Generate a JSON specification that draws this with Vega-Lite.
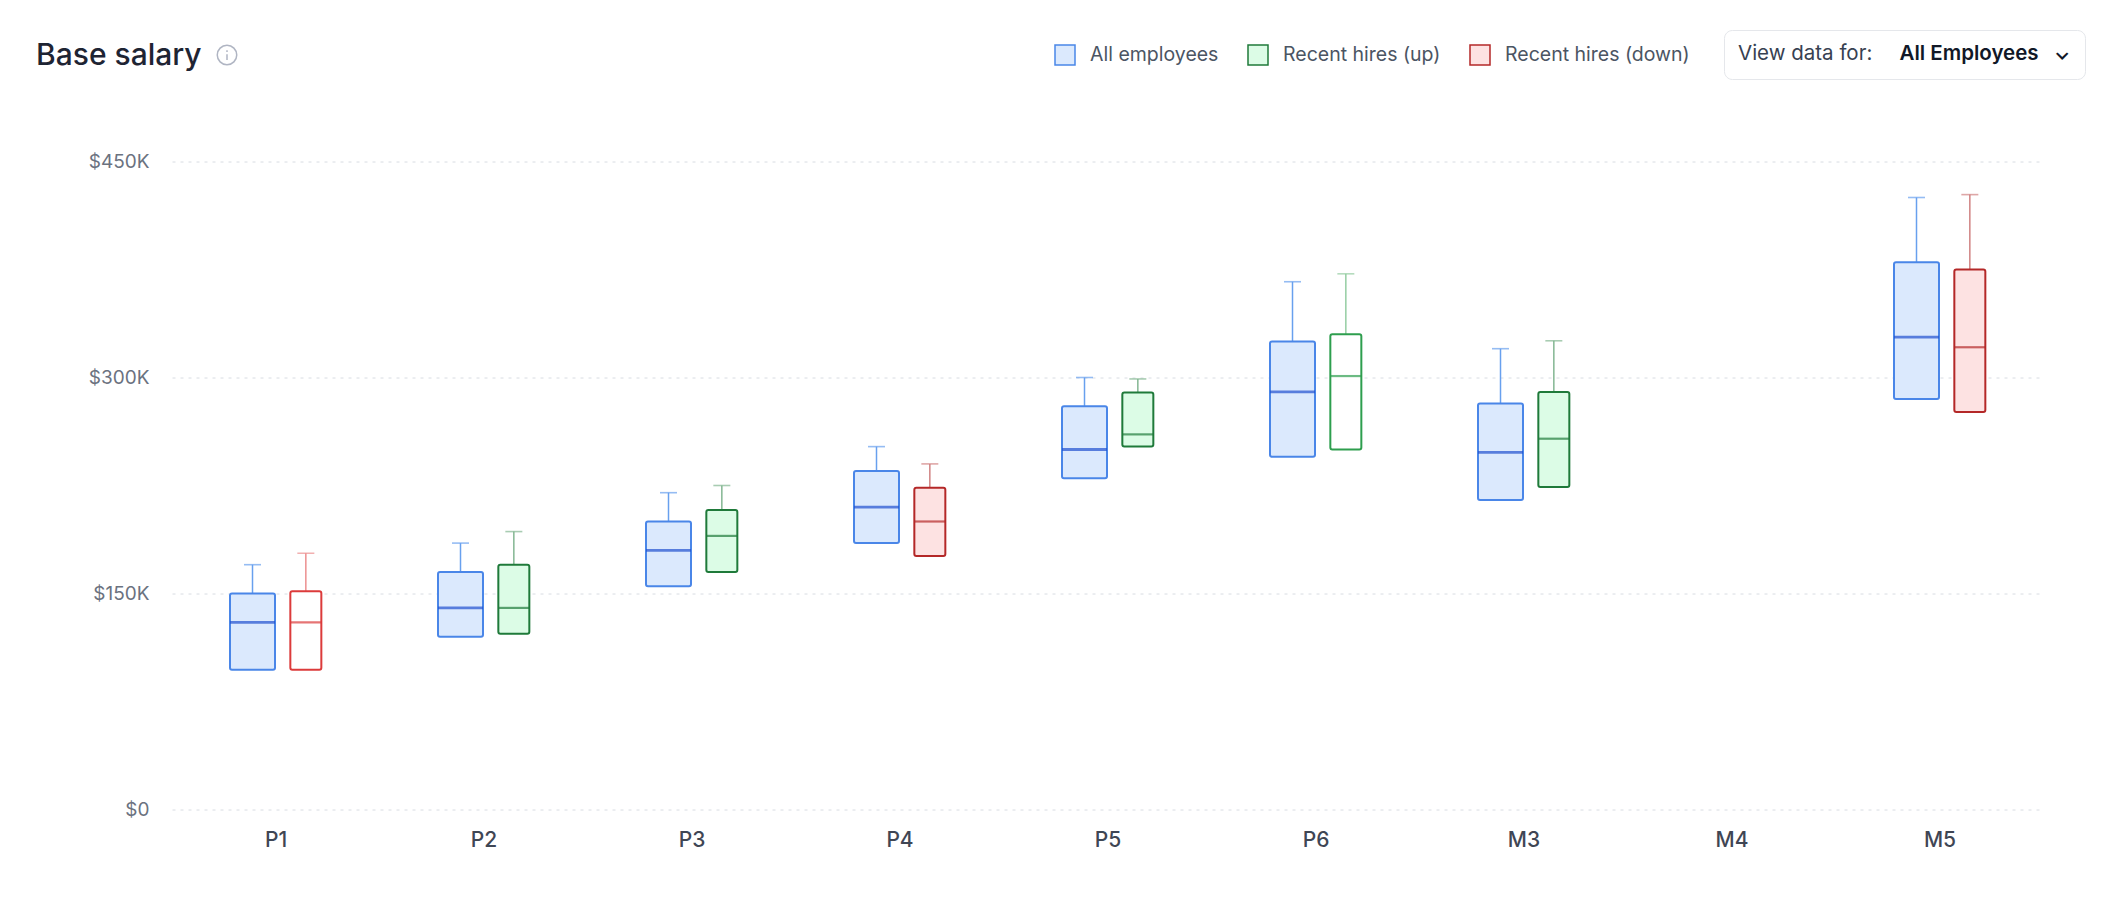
{
  "$schema": "https://vega.github.io/schema/vega-lite/v6.json",
  "width": 1872,
  "height": 648,
  "autosize": {"type": "none"},
  "padding": {"left": 172, "top": 161.5, "right": 76, "bottom": 108.5},
  "background": "#ffffff",
  "config": {
    "view": {"stroke": null},
    "font": "Inter",
    "legend": {"labelFont": "Inter", "titleFont": "Inter"},
    "axisY": {
      "grid": true, "gridDash": [3, 5], "gridColor": "#d8dce2", "gridWidth": 1,
      "domain": false, "ticks": false, "labelPadding": 23,
      "labelFont": "Inter", "labelFontSize": 19, "labelColor": "#6b7280"
    }
  },
  "title": {
    "text": "Base salary",
    "anchor": "start",
    "frame": "group",
    "orient": "top",
    "dx": -136,
    "offset": 0,
    "dy": 65,
    "baseline": "alphabetic",
    "font": "Inter",
    "fontSize": 30,
    "fontWeight": 500,
    "color": "#1e2433"
  },
  "data": {
    "values": [
      {"level": "P1", "series": "All employees", "cohort": "All", "q1": 97000, "median": 130000, "q3": 150000, "max": 170000},
      {"level": "P1", "series": "Recent hires (down)", "cohort": "Recent", "q1": 97000, "median": 130000, "q3": 151500, "max": 178000},
      {"level": "P2", "series": "All employees", "cohort": "All", "q1": 120000, "median": 140000, "q3": 165000, "max": 185000},
      {"level": "P2", "series": "Recent hires (up)", "cohort": "Recent", "q1": 122000, "median": 140000, "q3": 170000, "max": 193000},
      {"level": "P3", "series": "All employees", "cohort": "All", "q1": 155000, "median": 180000, "q3": 200000, "max": 220000},
      {"level": "P3", "series": "Recent hires (up)", "cohort": "Recent", "q1": 165000, "median": 190000, "q3": 208000, "max": 225000},
      {"level": "P4", "series": "All employees", "cohort": "All", "q1": 185000, "median": 210000, "q3": 235000, "max": 252000},
      {"level": "P4", "series": "Recent hires (down)", "cohort": "Recent", "q1": 176000, "median": 200000, "q3": 223500, "max": 240000},
      {"level": "P5", "series": "All employees", "cohort": "All", "q1": 230000, "median": 250000, "q3": 280000, "max": 300000},
      {"level": "P5", "series": "Recent hires (up)", "cohort": "Recent", "q1": 252000, "median": 260500, "q3": 289500, "max": 299000},
      {"level": "P6", "series": "All employees", "cohort": "All", "q1": 245000, "median": 290000, "q3": 325000, "max": 366500},
      {"level": "P6", "series": "Recent hires (up)", "cohort": "Recent", "q1": 250000, "median": 301000, "q3": 330000, "max": 372000},
      {"level": "M3", "series": "All employees", "cohort": "All", "q1": 215000, "median": 248000, "q3": 282000, "max": 320000},
      {"level": "M3", "series": "Recent hires (up)", "cohort": "Recent", "q1": 224000, "median": 257500, "q3": 290000, "max": 325500},
      {"level": "M5", "series": "All employees", "cohort": "All", "q1": 285000, "median": 328000, "q3": 380000, "max": 425000},
      {"level": "M5", "series": "Recent hires (down)", "cohort": "Recent", "q1": 276000, "median": 321000, "q3": 375000, "max": 427000}
    ]
  },
  "encoding": {
    "x": {
      "field": "level",
      "type": "nominal",
      "sort": null,
      "scale": {"domain": ["P1", "P2", "P3", "P4", "P5", "P6", "M3", "M4", "M5"], "paddingInner": 0, "paddingOuter": 0},
      "axis": {"labelAngle": 0, "labelFont": "Inter", "labelFontSize": 21, "labelFontWeight": 500, "labelColor": "#3f4654", "labelPadding": 20, "domain": false, "ticks": false, "grid": false},
      "title": null
    },
    "xOffset": {
      "field": "cohort",
      "type": "nominal",
      "scale": {"domain": ["All", "Recent"], "paddingInner": 0.1, "paddingOuter": 1.1177, "align": 0.5297}
    }
  },
  "layer": [
    {
      "mark": {"type": "rule", "strokeWidth": 1.5},
      "encoding": {
        "y": {
          "field": "q3",
          "type": "quantitative",
          "scale": {"domain": [0, 450000], "nice": false, "zero": true},
          "axis": {"values": [0, 150000, 300000, 450000], "labelExpr": "datum.value === 0 ? '$0' : '$' + format(datum.value / 1000, 'd') + 'K'"},
          "title": null
        },
        "y2": {"field": "max"},
        "stroke": {
          "condition": [
            {"test": "datum.level === 'P1' && datum.series === 'Recent hires (down)'", "value": "#ec8f8f"},
            {"test": "datum.level === 'P6' && datum.series === 'Recent hires (up)'", "value": "#95cda3"},
            {"test": "datum.series === 'All employees'", "value": "#68a0ee"},
            {"test": "datum.series === 'Recent hires (up)'", "value": "#83b692"}
          ],
          "value": "#d08282"
        }
      }
    },
    {
      "mark": {"type": "tick", "thickness": 1.6, "size": 17, "orient": "horizontal"},
      "encoding": {
        "y": {"field": "max", "type": "quantitative", "axis": {"values": [0, 150000, 300000, 450000], "labelExpr": "datum.value === 0 ? '$0' : '$' + format(datum.value / 1000, 'd') + 'K'"}, "title": null},
        "color": {
          "condition": [
            {"test": "datum.level === 'P1' && datum.series === 'Recent hires (down)'", "value": "#ec8f8f"},
            {"test": "datum.level === 'P6' && datum.series === 'Recent hires (up)'", "value": "#95cda3"},
            {"test": "datum.series === 'All employees'", "value": "#68a0ee"},
            {"test": "datum.series === 'Recent hires (up)'", "value": "#83b692"}
          ],
          "value": "#d08282"
        }
      }
    },
    {
      "transform": [{"filter": "datum.cohort === 'All'"}],
      "mark": {"type": "bar", "width": 45, "strokeWidth": 2, "cornerRadius": 2},
      "encoding": {
        "y": {"field": "q1", "type": "quantitative", "axis": {"values": [0, 150000, 300000, 450000], "labelExpr": "datum.value === 0 ? '$0' : '$' + format(datum.value / 1000, 'd') + 'K'"}, "title": null},
        "y2": {"field": "q3"},
        "fill": {
          "field": "series", "type": "nominal",
          "scale": {"domain": ["All employees", "Recent hires (up)", "Recent hires (down)"], "range": ["#dbe9fd", "#dcfce6", "#fde2e2"]},
          "legend": {"title": null, "orient": "none", "legendX": 882, "legendY": -117.5, "direction": "horizontal", "symbolType": "square", "symbolSize": 400, "symbolStrokeWidth": 1.5, "labelFontSize": 19.5, "labelLimit": 400, "labelColor": "#4b5563", "labelOffset": 14, "columnPadding": 26}
        },
        "stroke": {
          "field": "series", "type": "nominal",
          "scale": {"domain": ["All employees", "Recent hires (up)", "Recent hires (down)"], "range": ["#4a86e8", "#1f7a3a", "#b42828"]},
          "legend": {"title": null, "orient": "none", "legendX": 882, "legendY": -117.5, "direction": "horizontal", "symbolType": "square", "symbolSize": 400, "symbolStrokeWidth": 1.5, "labelFontSize": 19.5, "labelLimit": 400, "labelColor": "#4b5563", "labelOffset": 14, "columnPadding": 26}
        }
      }
    },
    {
      "transform": [{"filter": "datum.cohort === 'Recent'"}],
      "mark": {"type": "bar", "width": 31, "strokeWidth": 2, "cornerRadius": 2},
      "encoding": {
        "y": {"field": "q1", "type": "quantitative", "axis": {"values": [0, 150000, 300000, 450000], "labelExpr": "datum.value === 0 ? '$0' : '$' + format(datum.value / 1000, 'd') + 'K'"}, "title": null},
        "y2": {"field": "q3"},
        "fill": {
          "condition": {"test": "(datum.level === 'P1' && datum.series === 'Recent hires (down)') || (datum.level === 'P6' && datum.series === 'Recent hires (up)')", "value": "#ffffff"},
          "field": "series", "type": "nominal",
          "scale": {"domain": ["All employees", "Recent hires (up)", "Recent hires (down)"], "range": ["#dbe9fd", "#dcfce6", "#fde2e2"]},
          "legend": {"title": null, "orient": "none", "legendX": 882, "legendY": -117.5, "direction": "horizontal", "symbolType": "square", "symbolSize": 400, "symbolStrokeWidth": 1.5, "labelFontSize": 19.5, "labelLimit": 400, "labelColor": "#4b5563", "labelOffset": 14, "columnPadding": 26}
        },
        "stroke": {
          "condition": [
            {"test": "datum.level === 'P1' && datum.series === 'Recent hires (down)'", "value": "#dc3b3b"},
            {"test": "datum.level === 'P6' && datum.series === 'Recent hires (up)'", "value": "#2e9e4e"}
          ],
          "field": "series", "type": "nominal",
          "scale": {"domain": ["All employees", "Recent hires (up)", "Recent hires (down)"], "range": ["#4a86e8", "#1f7a3a", "#b42828"]},
          "legend": {"title": null, "orient": "none", "legendX": 882, "legendY": -117.5, "direction": "horizontal", "symbolType": "square", "symbolSize": 400, "symbolStrokeWidth": 1.5, "labelFontSize": 19.5, "labelLimit": 400, "labelColor": "#4b5563", "labelOffset": 14, "columnPadding": 26}
        }
      }
    },
    {
      "transform": [{"filter": "datum.cohort === 'All'"}],
      "mark": {"type": "tick", "thickness": 2.8, "size": 45, "orient": "horizontal", "color": "#1f4fcf"},
      "encoding": {
        "y": {"field": "median", "type": "quantitative", "axis": {"values": [0, 150000, 300000, 450000], "labelExpr": "datum.value === 0 ? '$0' : '$' + format(datum.value / 1000, 'd') + 'K'"}, "title": null}
      }
    },
    {
      "transform": [{"filter": "datum.cohort === 'Recent'"}],
      "mark": {"type": "tick", "thickness": 2.2, "size": 31, "orient": "horizontal"},
      "encoding": {
        "y": {"field": "median", "type": "quantitative", "axis": {"values": [0, 150000, 300000, 450000], "labelExpr": "datum.value === 0 ? '$0' : '$' + format(datum.value / 1000, 'd') + 'K'"}, "title": null},
        "color": {
          "condition": [
            {"test": "datum.level === 'P1' && datum.series === 'Recent hires (down)'", "value": "#dc3b3b"},
            {"test": "datum.level === 'P6' && datum.series === 'Recent hires (up)'", "value": "#2e9e4e"},
            {"test": "datum.series === 'Recent hires (up)'", "value": "#1f7a3a"}
          ],
          "value": "#b42828"
        }
      }
    },
    {
      "data": {"values": []},
      "mark": {"type": "point", "filled": false, "color": "#8f97aa", "strokeWidth": 1.5},
      "encoding": {
        "shape": {
          "field": "icon", "type": "nominal",
          "scale": {"domain": ["info"], "range": ["M0,-1A1,1,0,1,1,0,1A1,1,0,1,1,0,-1ZM0,-0.08L0,0.52M0,-0.5L0,-0.3"]},
          "legend": {"title": null, "orient": "none", "legendX": 44.5, "legendY": -117, "labelExpr": "''", "symbolSize": 380, "symbolStrokeColor": "#8f97aa", "symbolFillColor": "transparent", "symbolStrokeWidth": 1.5, "labelOffset": 0, "padding": 0}
        },
        "strokeDash": {
          "field": "menu", "type": "nominal",
          "scale": {"domain": ["All Employees"], "range": [[1, 0]]},
          "legend": {
            "title": "View data for:", "titleOrient": "left", "titleFontSize": 20.5, "titleFontWeight": 400, "titleColor": "#374151", "titlePadding": 2,
            "orient": "none", "legendX": 1552, "legendY": -131.5,
            "labelExpr": "datum.label + '\u00a0\u00a0\u00a0⌄'", "labelFontSize": 20.5, "labelFontWeight": 600, "labelColor": "#111827", "labelLimit": 400,
            "symbolSize": 0, "symbolOpacity": 0, "symbolStrokeWidth": 0, "labelOffset": 4,
            "strokeColor": "#e5e7eb", "fillColor": "#ffffff", "cornerRadius": 8, "padding": 14
          }
        }
      }
    }
  ]
}
